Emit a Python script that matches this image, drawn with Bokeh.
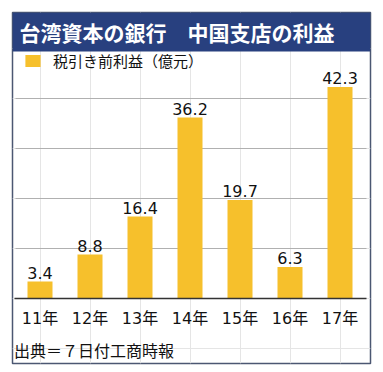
from bokeh.plotting import figure
from bokeh.models import Range1d, Label, BoxAnnotation
from bokeh.core.properties import value
from bokeh.embed import file_html
from bokeh.resources import INLINE

# ---- data ----
years = ["11年", "12年", "13年", "14年", "15年", "16年", "17年"]
profit = [3.4, 8.8, 16.4, 36.2, 19.7, 6.3, 42.3]
profit_labels = ["3.4", "8.8", "16.4", "36.2", "19.7", "6.3", "42.3"]
grid_values = [10, 20, 30, 40]
title_text = "台湾資本の銀行　中国支店の利益"
legend_text = "税引き前利益（億元）"
source_text = "出典＝７日付工商時報"

# ---- styling ----
BAR = "#f6c02c"
NAVY = "#28407f"
BORDER = "#4b5772"
CJK = "Noto Sans CJK JP"
NUM = "DejaVu Sans, Noto Sans CJK JP"

xs = list(range(len(years)))
ML, MR, MT, MB = 12, 5, 12, 5
frame_w, frame_h = 358, 351
W, H = ML + frame_w + MR, MT + frame_h + MB
px_x, px_y = 50.0, 5.0
x0 = -0.55
y0 = -13.0

p = figure(width=W, height=H, output_backend="svg", toolbar_location=None,
           x_range=Range1d(x0, x0 + frame_w / px_x),
           y_range=Range1d(y0, y0 + frame_h / px_y),
           x_axis_location=None, y_axis_location=None,
           min_border_left=ML, min_border_right=MR, min_border_top=MT, min_border_bottom=MB)
p.outline_line_color = BORDER
p.outline_line_width = 1.5
p.background_fill_color = "white"
p.border_fill_color = "white"

# title bar
p.add_layout(BoxAnnotation(bottom=49.4, fill_color=NAVY, fill_alpha=1.0, line_alpha=0))
p.add_layout(Label(x=7, y=frame_h - 19, x_units="screen", y_units="screen",
                   text=title_text, text_color="white", text_font=CJK,
                   text_font_style="bold", text_font_size="21px",
                   text_baseline="middle"))

# grid lines
gx0 = -0.49
gx1 = len(years) - 1 + 0.53
p.segment(x0=[gx0] * len(grid_values), y0=grid_values,
          x1=[gx1] * len(grid_values), y1=grid_values,
          line_color="#b0b0b0", line_width=1)

# bars
p.vbar(x=xs, top=profit, bottom=0, width=0.5, fill_color=BAR, line_color=None,
       legend_label=legend_text)

# baseline
p.segment(x0=[-0.51], y0=[0], x1=[gx1], y1=[0], line_color="#333333", line_width=1.5)

# value labels
p.text(x=xs, y=profit, text=profit_labels, text_align="center",
       text_baseline="alphabetic", y_offset=-9, text_font_size="16px",
       text_font=value(NUM), text_color="#111111")

# category labels
p.text(x=xs, y=[0] * len(xs), text=years, text_align="center",
       text_baseline="middle", y_offset=20, text_font_size="16px",
       text_font=value(NUM), text_color="#111111")

# source
p.add_layout(Label(x=1.5, y=14, x_units="screen", y_units="screen",
                   text=source_text, text_color="#111111", text_font=CJK,
                   text_font_size="16px", text_baseline="middle"))

# legend
lg = p.legend[0]
lg.location = (11, 292)
lg.padding = 0
lg.margin = 0
lg.spacing = 0
lg.border_line_alpha = 0
lg.background_fill_alpha = 0
lg.glyph_width = 19
lg.glyph_height = 15
lg.label_height = 15
lg.label_standoff = 11
lg.label_text_font_size = "15px"
lg.label_text_font = CJK
lg.label_text_color = "#111111"

open("out.html", "w").write(file_html(p, INLINE))
